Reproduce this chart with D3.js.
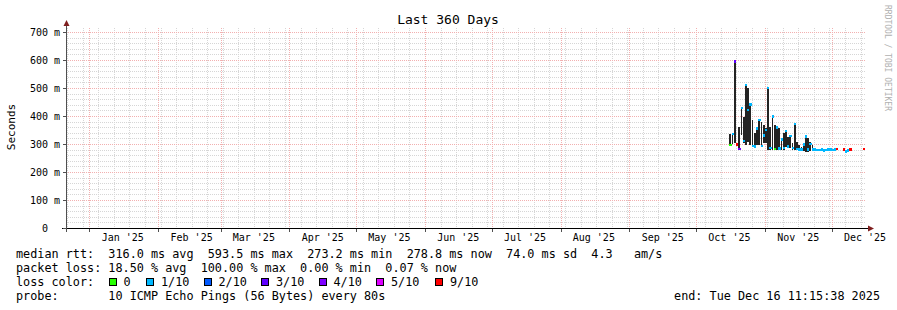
<!DOCTYPE html>
<html>
<head>
<meta charset="utf-8">
<script src="https://cdn.jsdelivr.net/npm/d3@7"></script>
<style>
body { margin: 0; background: #ffffff; }
svg { display: block; }
</style>
</head>
<body>
<script>
// chart data (values in ms, loss in tenths)
var title = "Last 360 Days";
var yLabel = "Seconds";
var watermark = "RRDTOOL / TOBI OETIKER";

var days = [
    "2025-10-16", "2025-10-17", "2025-10-18", "2025-10-19", "2025-10-20", "2025-10-21", "2025-10-22",
    "2025-10-23", "2025-10-24", "2025-10-25", "2025-10-26", "2025-10-27", "2025-10-28", "2025-10-29",
    "2025-10-30", "2025-10-31", "2025-11-01", "2025-11-02", "2025-11-03", "2025-11-04", "2025-11-05",
    "2025-11-06", "2025-11-07", "2025-11-08", "2025-11-09", "2025-11-10", "2025-11-11", "2025-11-12",
    "2025-11-13", "2025-11-14", "2025-11-15", "2025-11-16", "2025-11-17", "2025-11-18", "2025-11-19",
    "2025-11-20", "2025-11-21", "2025-11-22", "2025-11-23", "2025-11-24", "2025-11-25", "2025-11-26",
    "2025-11-27", "2025-11-28", "2025-11-29", "2025-11-30", "2025-12-01", "2025-12-02", "2025-12-03",
    "2025-12-06", "2025-12-07", "2025-12-08", "2025-12-09", "2025-12-15"
];
var smokeLo = [
    296, 300, 302, 293, 281, 332, 303,
    296, 308, 296, 290, 290, 296, 296,
    290, 302, 302, 279, 279, 279, 279,
    279, 279, 279, 279, 290, 285, 285,
    279, 279, 279, 276, 276, 276, 273,
    273, 276, 276, 276, 275, 274, 276,
    273, 275, 277, 276, 275, 277, 278,
    276, 270, 273, 276, 278
];
var smokeHi = [
    336, 338, 596, 303, 362, 429, 397,
    513, 499, 445, 386, 338, 362, 386,
    380, 368, 356, 505, 362, 404, 368,
    362, 356, 320, 338, 350, 326, 332,
    302, 374, 308, 296, 290, 302, 330,
    320, 308, 296, 282, 281, 280, 282,
    279, 281, 283, 282, 281, 283, 284,
    282, 278, 279, 282, 284
];
var median = [
    296, 335, 593.5, 298, 281, 427, 310,
    510, 420, 440, 292, 290, 355, 384,
    292, 330, 350, 500, 285, 398, 282,
    358, 283, 316, 285, 345, 290, 328,
    285, 370, 282, 279, 279, 298, 326,
    280, 300, 280, 279, 278, 277, 279,
    276, 278, 280, 279, 278, 280, 281,
    279, 273.2, 276, 279, 281
];
var loss = [
    0, 1, 3, 9, 4, 1, 1,
    1, 1, 1, 1, 1, 1, 1,
    1, 1, 1, 1, 1, 1, 0,
    1, 1, 1, 1, 1, 1, 1,
    1, 1, 1, 1, 1, 1, 1,
    1, 1, 1, 1, 1, 1, 1,
    1, 1, 1, 1, 1, 1, 9,
    9, 1, 1, 9, 9
];

var yTicks = [0, 0.1, 0.2, 0.3, 0.4, 0.5, 0.6, 0.7];
var yTickLabels = ["0  ", "100 m", "200 m", "300 m", "400 m", "500 m", "600 m", "700 m"];
var monthLabels = ["Jan '25", "Feb '25", "Mar '25", "Apr '25", "May '25", "Jun '25",
    "Jul '25", "Aug '25", "Sep '25", "Oct '25", "Nov '25", "Dec '25"];

var lossKeys = [0, 1, 2, 3, 4, 5, 9];
var lossLabels = ["0", "1/10", "2/10", "3/10", "4/10", "5/10", "9/10"];
var lossColors = ["#26ff00", "#00b8ff", "#0059ff", "#5e00ff", "#7e00ff", "#dd00ff", "#ff0000"];

var legendRtt = "median rtt:  316.0 ms avg  593.5 ms max  273.2 ms min  278.8 ms now  74.0 ms sd  4.3   am/s";
var legendLoss = "packet loss: 18.50 % avg  100.00 % max  0.00 % min  0.07 % now";
var legendLossColor = "loss color:";
var legendProbe = "probe:       10 ICMP Echo Pings (56 Bytes) every 80s";
var legendEnd = "end: Tue Dec 16 11:15:38 2025";

var start = new Date(Date.UTC(2024, 11, 21, 11, 15, 38));
var end = new Date(Date.UTC(2025, 11, 16, 11, 15, 38));

var mono = "'DejaVu Sans Mono', monospace";
var parseDay = d3.utcParse("%Y-%m-%d");

var svg = d3.select("body")
    .append("svg")
    .attr("width", 897)
    .attr("height", 310);

var x = d3.scaleUtc().domain([start, end]).range([66, 866]);
var y = d3.scaleLinear().domain([0, 0.7143]).range([228, 28]);

var grid = svg.append("g").attr("shape-rendering", "crispEdges");

// minor grid: every 20 ms, weekly on sundays
d3.range(0, 0.7143, 0.02).forEach(function (v) {
    grid.append("line")
        .attr("x1", 66).attr("x2", 866)
        .attr("y1", Math.round(y(v)) + 0.5).attr("y2", Math.round(y(v)) + 0.5)
        .attr("stroke", "#d6d6d6")
        .attr("stroke-dasharray", "1,1");
});
d3.utcSunday.range(start, end).forEach(function (d) {
    grid.append("line")
        .attr("x1", Math.round(x(d)) + 0.5).attr("x2", Math.round(x(d)) + 0.5)
        .attr("y1", 28).attr("y2", 228)
        .attr("stroke", "#d6d6d6")
        .attr("stroke-dasharray", "1,1");
});

// major grid
yTicks.forEach(function (v) {
    grid.append("line")
        .attr("x1", 66).attr("x2", 866)
        .attr("y1", Math.round(y(v)) + 0.5).attr("y2", Math.round(y(v)) + 0.5)
        .attr("stroke", "#f2b0b0")
        .attr("stroke-dasharray", "1,1");
});
var months = d3.utcMonth.range(start, end);
months.forEach(function (d) {
    grid.append("line")
        .attr("x1", Math.round(x(d)) + 0.5).attr("x2", Math.round(x(d)) + 0.5)
        .attr("y1", 28).attr("y2", 228)
        .attr("stroke", "#f2b0b0")
        .attr("stroke-dasharray", "1,1");
});

// smoke and median
var pts = days.map(function (s, i) {
    var d = parseDay(s);
    return { d0: d, d1: d3.utcDay.offset(d, 1), lo: smokeLo[i], hi: smokeHi[i], med: median[i], loss: loss[i] };
});
var lossColor = d3.scaleOrdinal().domain(lossKeys).range(lossColors);

var plot = svg.append("g").attr("shape-rendering", "crispEdges");
plot.selectAll("rect.smoke")
    .data(pts)
    .enter().append("rect")
    .attr("class", "smoke")
    .attr("x", function (p) { return x(p.d0); })
    .attr("width", function (p) { return x(p.d1) - x(p.d0) - 0.4; })
    .attr("y", function (p) { return y(p.hi / 1000); })
    .attr("height", function (p) { return y(p.lo / 1000) - y(p.hi / 1000); })
    .attr("fill", "#242424");
plot.selectAll("rect.med")
    .data(pts)
    .enter().append("rect")
    .attr("class", "med")
    .attr("x", function (p) { return x(p.d0); })
    .attr("width", function (p) { return x(p.d1) - x(p.d0); })
    .attr("y", function (p) { return y(p.med / 1000) - 1.5; })
    .attr("height", 2.5)
    .attr("fill", function (p) { return lossColor(p.loss); });

// axes
var axis = svg.append("g").attr("shape-rendering", "crispEdges");
axis.append("line")
    .attr("x1", 62).attr("x2", 869)
    .attr("y1", 228.5).attr("y2", 228.5)
    .attr("stroke", "#000000");
axis.append("line")
    .attr("x1", 66.5).attr("x2", 66.5)
    .attr("y1", 232).attr("y2", 25)
    .attr("stroke", "#505050");
yTicks.forEach(function (v) {
    axis.append("line")
        .attr("x1", 63).attr("x2", 66)
        .attr("y1", Math.round(y(v)) + 0.5).attr("y2", Math.round(y(v)) + 0.5)
        .attr("stroke", "#505050");
});
months.forEach(function (d) {
    axis.append("line")
        .attr("x1", Math.round(x(d)) + 0.5).attr("x2", Math.round(x(d)) + 0.5)
        .attr("y1", 229).attr("y2", 232)
        .attr("stroke", "#505050");
});
svg.append("path")
    .attr("d", "M868,225.5L874,228.5L868,231.5Z")
    .attr("fill", "#7f1f1f");
svg.append("path")
    .attr("d", "M63.5,26L66.5,20L69.5,26Z")
    .attr("fill", "#7f1f1f");

// tick labels
svg.selectAll("text.ylab")
    .data(yTicks)
    .enter().append("text")
    .attr("class", "ylab")
    .attr("x", 60)
    .attr("y", function (v) { return y(v) + 3.5; })
    .attr("text-anchor", "end")
    .attr("xml:space", "preserve")
    .style("white-space", "pre")
    .attr("font-family", mono)
    .attr("font-size", "10px")
    .attr("fill", "#000")
    .text(function (v, i) { return yTickLabels[i]; });

svg.selectAll("text.xlab")
    .data(months)
    .enter().append("text")
    .attr("class", "xlab")
    .attr("x", function (d) { return x(d3.utcDay.offset(d, 15)); })
    .attr("y", 241)
    .attr("text-anchor", "middle")
    .attr("font-family", mono)
    .attr("font-size", "10px")
    .attr("fill", "#000")
    .text(function (d, i) { return monthLabels[i]; });

// titles
svg.append("text")
    .attr("x", 448).attr("y", 24)
    .attr("text-anchor", "middle")
    .attr("font-family", mono)
    .attr("font-size", "13px")
    .text(title);
svg.append("text")
    .attr("transform", "translate(15,127) rotate(-90)")
    .attr("text-anchor", "middle")
    .attr("font-family", mono)
    .attr("font-size", "11px")
    .text(yLabel);
svg.append("text")
    .attr("transform", "translate(885,5) rotate(90)")
    .attr("font-family", mono)
    .attr("font-size", "8px")
    .attr("fill", "#b0b0b0")
    .text(watermark);

// legend
var lg = svg.append("g")
    .attr("font-family", mono)
    .attr("font-size", "11.8px")
    .attr("fill", "#000");
[legendRtt, legendLoss, legendLossColor, legendProbe].forEach(function (s, i) {
    lg.append("text")
        .attr("x", 16).attr("y", 258 + i * 14)
        .attr("xml:space", "preserve")
        .style("white-space", "pre")
        .text(s);
});
var boxX = [108.5, 146, 203.5, 261, 318.5, 376, 435];
lossLabels.forEach(function (s, i) {
    lg.append("rect")
        .attr("x", boxX[i] + 0.5).attr("y", 278.5)
        .attr("width", 7).attr("height", 7)
        .attr("fill", lossColors[i])
        .attr("stroke", "#000")
        .attr("shape-rendering", "crispEdges");
    lg.append("text")
        .attr("x", boxX[i] + 15).attr("y", 286)
        .text(s);
});
lg.append("text")
    .attr("x", 880).attr("y", 300)
    .attr("text-anchor", "end")
    .text(legendEnd);
</script>
</body>
</html>
